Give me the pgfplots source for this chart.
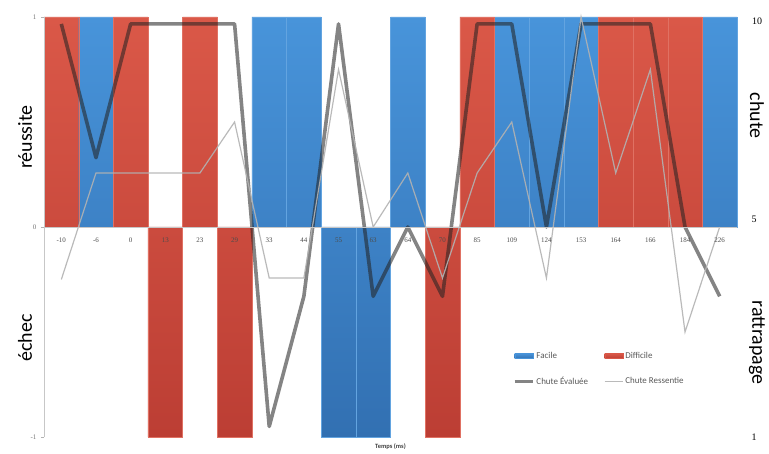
\documentclass[border=0pt]{standalone}
\usepackage{pgfplots}
\pgfplotsset{compat=1.18}
\usepackage{fontspec}
\setmainfont{Carlito}
\newfontfamily\numfont{Liberation Serif}
\definecolor{redT}{RGB}{218,88,72}
\definecolor{redB}{RGB}{188,62,52}
\definecolor{blueT}{RGB}{72,148,218}
\definecolor{blueB}{RGB}{50,112,178}
\definecolor{evalc}{RGB}{35,35,35}
\definecolor{ressc}{RGB}{178,178,178}
\pgfplotsset{
  linelegend/.style={legend image code/.code={\draw[##1] (0bp,0bp) -- (18bp,0bp);}},
  bluelegend/.style={legend image code/.code={\fill[blueT] (0bp,-2.5bp) rectangle (18bp,2.5bp);}},
  redlegend/.style={legend image code/.code={\fill[redT] (0bp,-2.5bp) rectangle (18bp,2.5bp);}},
}
\begin{document}
\begin{tikzpicture}
\begin{axis}[
  scale only axis, width=693bp, height=420bp,
  at={(0,0)}, anchor=south west,
  xmin=-0.5, xmax=19.5, ymin=-1, ymax=1,
  axis x line*=middle, axis y line*=left,
  axis line style={draw=black!22, line width=0.6bp},
  xtick={0,...,19},
  xticklabels={-10,-6,0,13,23,29,33,44,55,63,64,70,85,109,124,153,164,166,184,226},
  xtick style={draw=none},
  xticklabel style={font=\numfont\fontsize{7}{8}\selectfont, text=black!70, yshift=-4bp},
  ytick={-1,0,1}, yticklabels={-1,0,1},
  tick align=outside, major tick length=3bp,
  ytick style={draw=black!30},
  yticklabel style={font=\numfont\fontsize{7}{8}\selectfont, text=black!55, xshift=-1bp},
  clip=false,
  set layers=axis on top,
  axis on top,
  legend columns=2,
  legend cell align=left,
  legend style={at={(0.672,0.212)}, anchor=north west, draw=none, fill=none,
    font=\fontsize{9}{10}\selectfont, text=black!65, row sep=13bp,
    /tikz/every even column/.append style={column sep=14bp}},
]
\addplot[ybar, bar width=1, bar shift=0pt, draw=blueT!85!white, line width=0.3bp,
  top color=blueT, bottom color=blueB, bluelegend]
  coordinates {(1,1) (6,1) (7,1) (8,-1) (9,-1) (10,1) (13,1) (14,1) (15,1) (19,1)};
\addlegendentry{Facile}
\addplot[ybar, bar width=1, bar shift=0pt, draw=redT!85!white, line width=0.3bp,
  top color=redT, bottom color=redB, redlegend]
  coordinates {(0,1) (2,1) (3,-1) (4,1) (5,-1) (11,-1) (12,1) (16,1) (17,1) (18,1)};
\addlegendentry{Difficile}
\addplot[sharp plot, no markers, draw=evalc, draw opacity=0.56, line width=3.6bp, line join=round, linelegend]
  coordinates {(0,0.967) (1,0.33) (2,0.967) (3,0.967) (4,0.967) (5,0.967) (6,-0.95) (7,-0.33)
  (8,0.967) (9,-0.33) (10,0) (11,-0.33) (12,0.967) (13,0.967) (14,0) (15,0.967) (16,0.967)
  (17,0.967) (18,0) (19,-0.33)};
\addlegendentry{Chute Évaluée}
\addplot[sharp plot, no markers, draw=ressc, draw opacity=0.9, line width=1.2bp, linelegend]
  coordinates {(0,-0.25) (1,0.257) (2,0.257) (3,0.257) (4,0.257) (5,0.5) (6,-0.243) (7,-0.243)
  (8,0.75) (9,0) (10,0.257) (11,-0.243) (12,0.257) (13,0.5) (14,-0.243) (15,1.0) (16,0.257)
  (17,0.75) (18,-0.5) (19,0)};
\addlegendentry{Chute Ressentie}
\node[rotate=90, font=\fontsize{20}{22}\selectfont] at ([xshift=-19bp]rel axis cs:0,0.714) {réussite};
\node[rotate=90, font=\fontsize{20}{22}\selectfont] at ([xshift=-19bp]rel axis cs:0,0.236) {échec};
\node[rotate=-90, font=\fontsize{20}{22}\selectfont] at ([xshift=20bp]rel axis cs:1,0.765) {chute};
\node[rotate=-90, font=\fontsize{20}{22}\selectfont] at ([xshift=20bp]rel axis cs:1,0.225) {rattrapage};
\node[font=\numfont\fontsize{10}{11}\selectfont] at ([xshift=20bp]rel axis cs:1,0.99) {10};
\node[font=\numfont\fontsize{10}{11}\selectfont] at ([xshift=17bp,yshift=8bp]rel axis cs:1,0.5) {5};
\node[font=\numfont\fontsize{10}{11}\selectfont] at ([xshift=17bp]rel axis cs:1,0) {1};
\node[font=\bfseries\fontsize{6.5}{7}\selectfont, text=black!75] at ([yshift=-10bp]rel axis cs:0.5,0) {Temps (ms)};
\end{axis}
\pgfresetboundingbox
\path[use as bounding box] (-44bp,-17bp) rectangle (725bp,437bp);
\end{tikzpicture}
\end{document}
